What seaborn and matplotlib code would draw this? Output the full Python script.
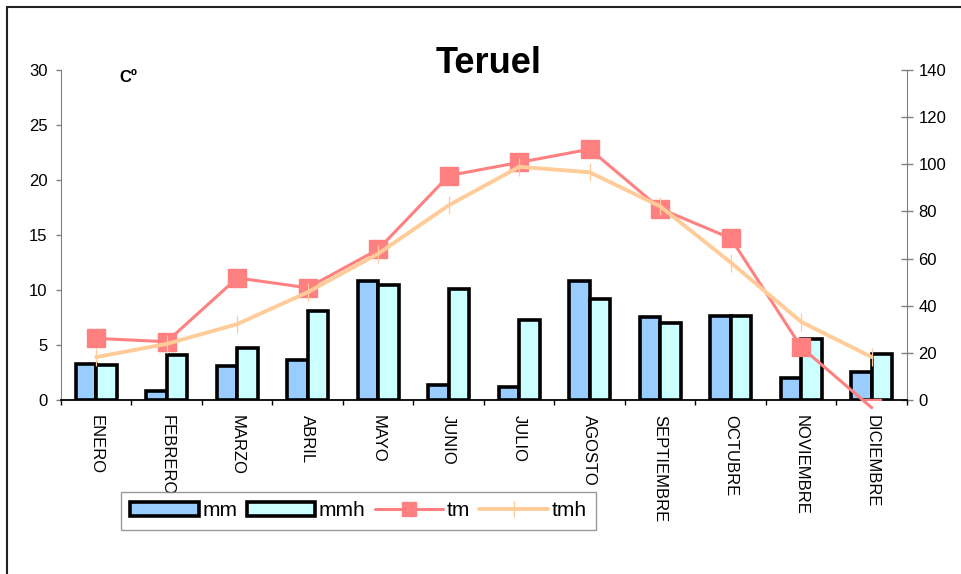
import numpy as np
import pandas as pd
import matplotlib
matplotlib.use('Agg')
import matplotlib.pyplot as plt
import seaborn as sns
from matplotlib.patches import Patch
from matplotlib.lines import Line2D

months = ['ENERO', 'FEBRERO', 'MARZO', 'ABRIL', 'MAYO', 'JUNIO', 'JULIO',
          'AGOSTO', 'SEPTIEMBRE', 'OCTUBRE', 'NOVIEMBRE', 'DICIEMBRE']
# precipitation (right axis)
mm = [15.3, 3.9, 14.6, 17.0, 50.6, 6.4, 5.7, 50.6, 35.4, 35.7, 9.2, 11.7]
mmh = [14.9, 19.1, 21.9, 37.9, 48.8, 47.0, 33.9, 42.9, 32.5, 35.7, 25.8, 19.7]
# temperature (left axis)
tm = [5.6, 5.3, 11.1, 10.2, 13.7, 20.4, 21.6, 22.8, 17.4, 14.7, 4.8, -0.7]
tmh = [3.9, 5.1, 6.9, 9.8, 13.3, 17.7, 21.2, 20.7, 17.6, 12.5, 7.1, 3.9]

c_mm, c_mmh = '#99CCFF', '#CCFFFF'
c_tm, c_tmh = '#FF8080', '#FFCC99'

sns.set_style('white')
plt.rcParams['font.family'] = ['Liberation Sans', 'DejaVu Sans']
plt.rcParams['text.color'] = 'black'
plt.rcParams['xtick.labelcolor'] = 'black'
plt.rcParams['ytick.labelcolor'] = 'black'

fig = plt.figure(figsize=(9.62, 5.74), dpi=100)
ax = fig.add_axes([61/962, 1-400/574, 846/962, 330/574])
ax2 = ax.twinx()

# bars on the secondary (right) axis
df = pd.DataFrame({'mes': months * 2,
                   'serie': ['mm'] * 12 + ['mmh'] * 12,
                   'valor': mm + mmh})
sns.barplot(data=df, x='mes', y='valor', hue='serie', order=months,
            palette={'mm': c_mm, 'mmh': c_mmh}, saturation=1, width=0.58, gap=0,
            edgecolor='black', linewidth=2.6, legend=False, ax=ax2)
ax2.set_ylim(0, 140)
ax2.set_yticks(range(0, 141, 20))
ax2.set_ylabel('')
ax2.set_xlabel('')

# temperature lines on the primary (left) axis, drawn above the bars
ax.set_zorder(ax2.get_zorder() + 1)
ax.patch.set_visible(False)
x = np.arange(len(months))
ax.plot(x, tm, color=c_tm, lw=2.2, clip_on=False, zorder=3)
ax.plot(x, tm, ls='none', marker='s', ms=13, color=c_tm, zorder=4)
ax.plot(x, tmh, color=c_tmh, lw=2.8, marker='|', ms=13.5, mew=0.9, zorder=5)
ax.set_ylim(0, 30)
ax.set_yticks(range(0, 31, 5))
ax.set_xlim(-0.5, 11.5)

ax.set_xticks(x)
ax.set_xticklabels(months, rotation=270, fontsize=12, va='top', ha='center')
ax.set_xticks(np.arange(-0.5, 12, 1), minor=True)
ax.tick_params(axis='x', which='major', length=0, pad=11)
ax.tick_params(axis='x', which='minor', length=3.6, width=1, color='black',
               direction='out', bottom=True)
ax.tick_params(axis='y', labelsize=12, length=3.6, width=1, color='#808080',
               direction='out', left=True, pad=6)
ax2.tick_params(axis='y', labelsize=12, length=8.6, width=1, color='#808080',
                direction='inout', right=True, pad=4)

for a in (ax, ax2):
    a.spines['top'].set_visible(False)
ax.spines['right'].set_visible(False)
ax.spines['left'].set_color('#808080')
ax.spines['bottom'].set_color('black')
ax.spines['bottom'].set_linewidth(1.3)
ax2.spines['left'].set_visible(False)
ax2.spines['bottom'].set_visible(False)
ax2.spines['right'].set_color('#808080')

fig.text(489/962, 1-73/574, 'Teruel', fontsize=26, fontweight='bold',
         ha='center', va='baseline')
ax.text(119/962, 1-82/574, 'Cº', transform=fig.transFigure, fontsize=12,
        fontweight='bold', ha='left', va='baseline')

handles = [
    Patch(facecolor=c_mm, edgecolor='black', linewidth=2.6, label='mm'),
    Patch(facecolor=c_mmh, edgecolor='black', linewidth=2.6, label='mmh'),
    Line2D([], [], color=c_tm, lw=2.2, marker='s', ms=10.5, label='tm'),
    Line2D([], [], color=c_tmh, lw=2.8, marker='|', ms=11, mew=0.9, label='tmh'),
]
leg = fig.legend(handles=handles, loc='upper left',
                 bbox_to_anchor=(121/962, 1-492/574), ncol=4, fontsize=15,
                 frameon=True, fancybox=False, edgecolor='#808080',
                 borderaxespad=0, borderpad=0.45, handlelength=3.3,
                 handleheight=0.65, handletextpad=0.15, columnspacing=0.45)
leg.get_frame().set_linewidth(1)

# outer chart border (left and top edges)
fig.add_artist(Line2D([7/962, 7/962], [0, 1-7/574], transform=fig.transFigure,
                      color='#222222', lw=1.5))
fig.add_artist(Line2D([7/962, 1], [1-7/574, 1-7/574], transform=fig.transFigure,
                      color='#222222', lw=1.5))

fig.savefig('out.png', dpi=100)
